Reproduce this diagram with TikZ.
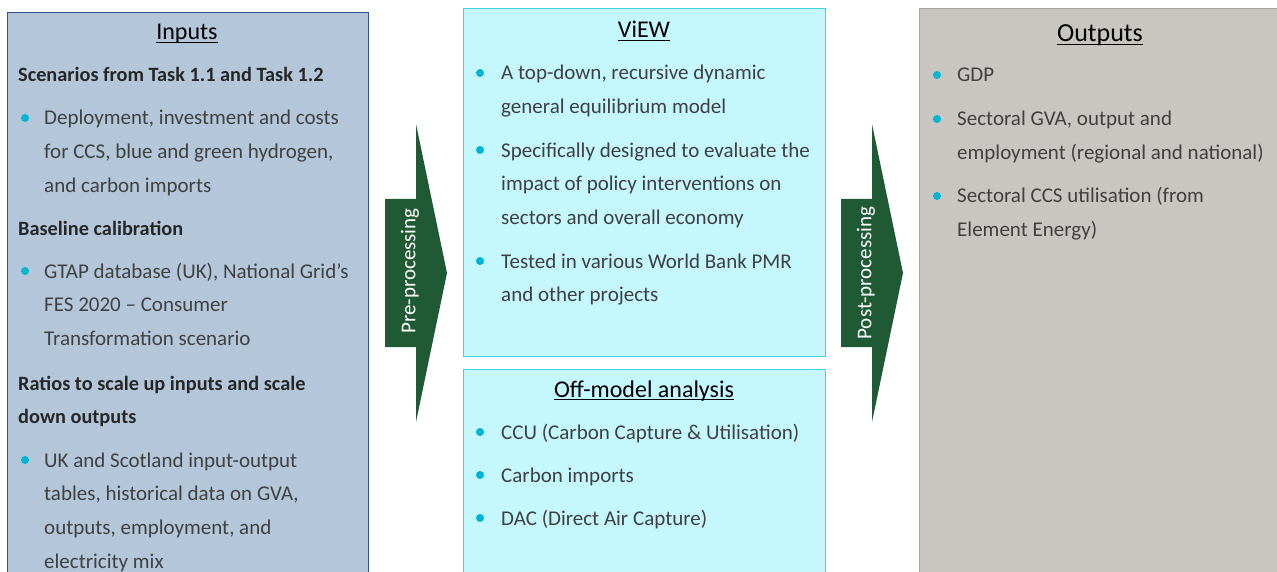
\documentclass[tikz,border=0pt]{standalone}
\usepackage{fontspec}
\setmainfont{Carlito}
\definecolor{inpfill}{HTML}{B4C6DA}
\definecolor{inpdraw}{HTML}{2F528F}
\definecolor{viewfill}{HTML}{C4F8FE}
\definecolor{viewdraw}{HTML}{40D0E8}
\definecolor{outfill}{HTML}{C9C6C1}
\definecolor{outdraw}{HTML}{A6A6A6}
\definecolor{arrgreen}{HTML}{205A34}
\definecolor{bodyc}{HTML}{404040}
\definecolor{headc}{HTML}{262626}
\definecolor{bulletc}{HTML}{00B4D4}
\newcommand\myul[1]{\setbox0=\hbox{#1}\rlap{\rule[-3pt]{\wd0}{1pt}}\box0}
\tikzset{
  body/.style={anchor=base west, inner sep=0pt, align=left, font=\fontsize{21}{33.8}\selectfont, text=bodyc},
  head/.style={anchor=base west, inner sep=0pt, align=left, font=\fontsize{20.3}{33.5}\selectfont\bfseries, text=headc},
  ttl/.style={anchor=base, inner sep=0pt, font=\fontsize{24}{28}\selectfont, text=black},
  dot/.style={fill=bulletc},
  blockarrow/.style={fill=arrgreen},
  arrtext/.style={rotate=90, inner sep=0pt, text=white, font=\fontsize{21}{24}\selectfont}
}
\begin{document}
\begin{tikzpicture}[x=1pt,y=-1pt]
\useasboundingbox (0,0) rectangle (1277,572);
\clip (0,0) rectangle (1277,572);
\fill[white] (0,0) rectangle (1277,572);
% boxes
\draw[fill=inpfill, draw=inpdraw, line width=1pt] (7,13) rectangle (368,590);
\draw[fill=viewfill, draw=viewdraw, line width=1pt] (463,9) rectangle (825,356);
\draw[fill=viewfill, draw=viewdraw, line width=1pt] (463,369) rectangle (825,590);
\draw[fill=outfill, draw=outdraw, line width=1pt] (919,9) rectangle (1290,590);
% arrows
\fill[blockarrow] (385,199) -- (416,199) -- (416,124) -- (447,273) -- (416,422) -- (416,347) -- (385,347) -- cycle;
\fill[blockarrow] (841,199) -- (872,199) -- (872,124) -- (903,273) -- (872,422) -- (872,347) -- (841,347) -- cycle;
\node[arrtext] (pre) at (410,271) {Pre-processing};
\node[arrtext] (post) at (866,273) {Post-processing};
% Inputs
\node[ttl] (inT) at (187,40) {\myul{Inputs}};
\node[head] (inH1) at (18,82) {Scenarios from Task 1.1 and Task 1.2};
\fill[dot] (25,118) circle (4);
\node[body] (inB1) at (44,192.6) {Deployment, investment and costs\\for CCS, blue and green hydrogen,\\and carbon imports};
\node[head] (inH2) at (18,236) {Baseline calibration};
\fill[dot] (25,271) circle (4);
\node[body] (inB2) at (44,345.6) {GTAP database (UK), National Grid’s\\FES 2020 – Consumer\\Transformation scenario};
\node[head] (inH3) at (18,423.5) {Ratios to scale up inputs and scale\\down outputs};
\fill[dot] (25,460) circle (4);
\node[body] (inB3) at (44,568.4) {UK and Scotland input-output\\tables, historical data on GVA,\\outputs, employment, and\\electricity mix};
% ViEW
\node[ttl] (vT) at (644,38) {\myul{ViEW}};
\fill[dot] (480,73) circle (4);
\node[body] (vB1) at (501,113.8) {A top-down, recursive dynamic\\general equilibrium model};
\fill[dot] (480,150) circle (4);
\node[body] (vB2) at (501,224.6) {Specifically designed to evaluate the\\impact of policy interventions on\\sectors and overall economy};
\fill[dot] (480,261) circle (4);
\node[body] (vB3) at (501,301.8) {Tested in various World Bank PMR\\and other projects};
% Off-model
\node[ttl] (oT) at (644,397) {\myul{Off-model analysis}};
\fill[dot] (480,432) circle (4);
\node[body] (oB1) at (501,439) {CCU (Carbon Capture \& Utilisation)};
\fill[dot] (480,475) circle (4);
\node[body] (oB2) at (501,482) {Carbon imports};
\fill[dot] (480,518) circle (4);
\node[body] (oB3) at (501,525) {DAC (Direct Air Capture)};
% Outputs
\node[ttl, font=\fontsize{26}{30}\selectfont] (outT) at (1100,42) {\myul{Outputs}};
\fill[dot] (937,75) circle (4);
\node[body] (outB1) at (957,82) {GDP};
\fill[dot] (937,119) circle (4);
\node[body] (outB2) at (957,159.8) {Sectoral GVA, output and\\employment (regional and national)};
\fill[dot] (937,196) circle (4);
\node[body] (outB3) at (957,236.8) {Sectoral CCS utilisation (from\\Element Energy)};
\end{tikzpicture}
\end{document}
